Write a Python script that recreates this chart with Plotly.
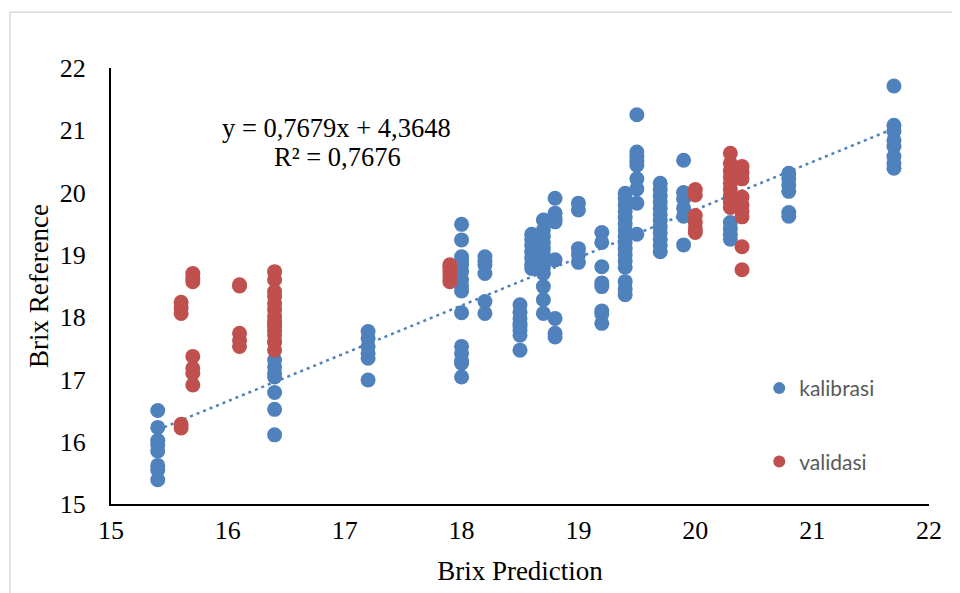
import plotly.graph_objects as go

# ---- data ----
kal_x = ([15.4] * 8 + [16.4] * 9 + [17.2] * 6 + [18.0] * 15 + [18.2] * 6 + [18.5] * 8 +
         [18.6] * 7 + [18.7] * 12 + [18.8] * 8 + [19.0] * 5 + [19.2] * 8 + [19.4] * 16 +
         [19.5] * 9 + [19.7] * 12 + [19.9] * 6 + [20.3] * 4 + [20.8] * 6 + [21.7] * 8)
kal_y = [16.50, 16.23, 16.02, 15.95, 15.85, 15.62, 15.55, 15.39,
         17.90, 17.60, 17.31, 17.20, 17.10, 17.04, 16.79, 16.52, 16.11,
         17.77, 17.66, 17.53, 17.42, 17.34, 16.99,
         19.49, 19.24, 18.97, 18.90, 18.84, 18.73, 18.60, 18.49, 18.42, 18.07, 17.53, 17.42, 17.30, 17.26, 17.04,
         18.97, 18.90, 18.84, 18.70, 18.25, 18.06,
         18.20, 18.08, 17.98, 17.90, 17.85, 17.78, 17.71, 17.47,
         19.33, 19.25, 19.15, 19.05, 18.95, 18.85, 18.78,
         19.56, 19.40, 19.30, 19.20, 19.10, 19.00, 18.90, 18.80, 18.70, 18.49, 18.28, 18.06,
         19.91, 19.67, 19.58, 19.53, 18.92, 17.98, 17.74, 17.68,
         19.83, 19.72, 19.10, 19.00, 18.88,
         19.36, 19.20, 18.81, 18.55, 18.49, 18.10, 18.05, 17.90,
         19.99, 19.90, 19.80, 19.70, 19.60, 19.50, 19.40, 19.30, 19.20, 19.10, 19.00, 18.90, 18.80, 18.57, 18.45, 18.36,
         21.25, 20.65, 20.58, 20.50, 20.44, 20.22, 20.06, 19.83, 19.33,
         20.15, 20.05, 19.95, 19.85, 19.75, 19.65, 19.55, 19.45, 19.35, 19.25, 19.15, 19.05,
         20.52, 20.00, 19.90, 19.75, 19.62, 19.16,
         19.52, 19.42, 19.33, 19.25,
         20.31, 20.22, 20.12, 20.02, 19.68, 19.62,
         21.71, 21.08, 20.98, 20.84, 20.74, 20.58, 20.47, 20.39]

val_x = ([15.6] * 5 + [15.7] * 7 + [16.1] * 5 + [16.4] * 13 + [17.9] * 5 +
         [20.0] * 6 + [20.3] * 9 + [20.4] * 9)
val_y = [18.24, 18.15, 18.06, 16.28, 16.22,
         18.70, 18.62, 18.57, 17.37, 17.18, 17.10, 16.91,
         18.52, 18.50, 17.74, 17.63, 17.53,
         18.73, 18.60, 18.41, 18.33, 18.22, 18.12, 18.01, 17.93, 17.85, 17.78, 17.71, 17.60, 17.47,
         18.84, 18.80, 18.73, 18.65, 18.57,
         20.05, 19.96, 19.63, 19.52, 19.42, 19.36,
         20.63, 20.47, 20.35, 20.25, 20.15, 20.05, 19.95, 19.85, 19.76,
         20.42, 20.32, 20.22, 19.93, 19.80, 19.70, 19.61, 19.13, 18.76]

slope = 0.7679
intercept = 4.3648
r2 = 0.7676
series_names = ["kalibrasi", "validasi"]
axis_ticks = [15, 16, 17, 18, 19, 20, 21, 22]

BLUE = "#4F81BD"
RED = "#C0504D"
SERIF = "Liberation Serif, Times New Roman, serif"

trend_x = [min(kal_x), max(kal_x)]
trend_y = [slope * v + intercept for v in trend_x]

fig = go.Figure()
fig.add_trace(go.Scatter(x=kal_x, y=kal_y, mode="markers", name=series_names[0],
                         legendgroup="a",
                         marker=dict(color=BLUE, size=15)))
fig.add_trace(go.Scatter(x=trend_x, y=trend_y, mode="lines", showlegend=False,
                         line=dict(color=BLUE, width=2.5, dash="3px,4px"),
                         hoverinfo="skip"))
fig.add_trace(go.Scatter(x=val_x, y=val_y, mode="markers", name=series_names[1],
                         legendgroup="b",
                         marker=dict(color=RED, size=15)))

axis_common = dict(showgrid=False, zeroline=False, showline=True, linecolor="black",
                   linewidth=2, ticks="", tickvals=axis_ticks, automargin=False,
                   tickfont=dict(family=SERIF, size=26, color="black"))

fig.update_xaxes(range=[15, 22], ticklabelstandoff=2,
                 title=dict(text="Brix Prediction", font=dict(family=SERIF, size=27, color="black"),
                            standoff=17),
                 **axis_common)
fig.update_yaxes(range=[15, 22], ticklabelstandoff=18,
                 title=dict(text="Brix Reference", font=dict(family=SERIF, size=27, color="black"),
                            standoff=3),
                 **axis_common)

fig.add_annotation(xref="paper", yref="paper", x=0.276, y=0.862,
                   xanchor="center", yanchor="middle",
                   text=f"y = {str(slope).replace('.', ',')}x + {str(intercept).replace('.', ',')}",
                   showarrow=False, font=dict(family=SERIF, size=26.5, color="black"))
fig.add_annotation(xref="paper", yref="paper", x=0.2775, y=0.795,
                   xanchor="center", yanchor="middle",
                   text=f"R² = {str(r2).replace('.', ',')}",
                   showarrow=False, font=dict(family=SERIF, size=26.5, color="black"))

# outer chart-area border
fig.add_shape(type="rect", xref="paper", yref="paper", x0=-0.1235, x1=1.1, y0=-0.3, y1=1.128,
              line=dict(color="#D9D9D9", width=1.5), fillcolor="rgba(0,0,0,0)", layer="below")

# page body has an 8px margin, so the figure is drawn 8px smaller and the margins shifted
fig.update_layout(
    width=952, height=585, autosize=False,
    margin=dict(l=103, r=31, t=60, b=89),
    paper_bgcolor="white", plot_bgcolor="white",
    showlegend=True,
    legend=dict(x=0.7925, y=0.312, xanchor="left", yanchor="top",
                bgcolor="rgba(0,0,0,0)", traceorder="grouped", tracegroupgap=43,
                font=dict(family="Lato, Carlito, Calibri, sans-serif", size=21, color="#595959"),
                itemsizing="constant"),
)

fig.write_html("out.html")
